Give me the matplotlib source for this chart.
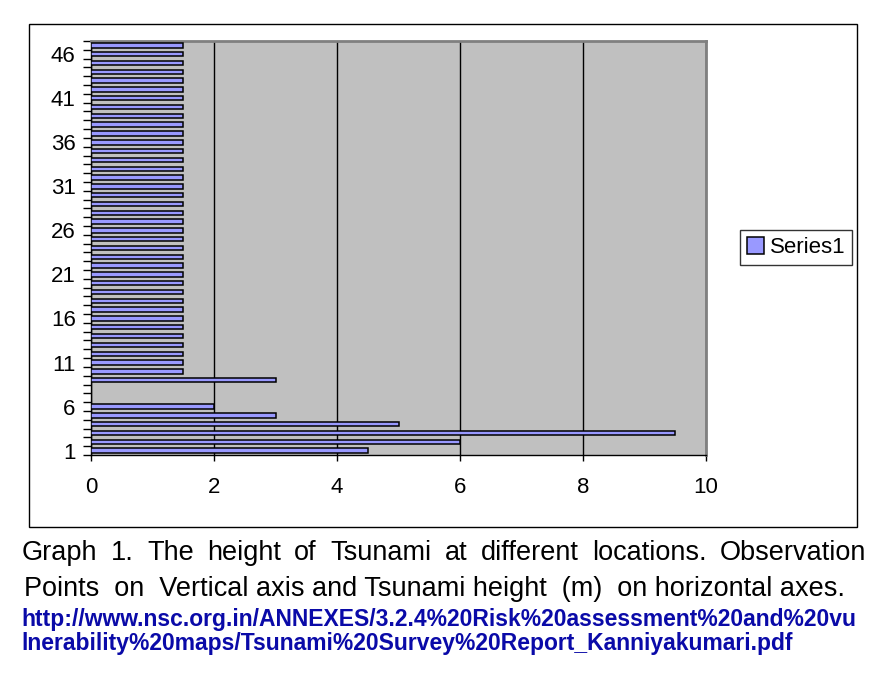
import matplotlib.pyplot as plt
from matplotlib.patches import Rectangle

# observation points 1..47, tsunami height (m)
points = list(range(1, 48))
heights = [4.5, 6, 9.5, 5, 3, 2, 0, 0, 3] + [1.5] * 38
label_points = [1, 6, 11, 16, 21, 26, 31, 36, 41, 46]
x_ticks = [0, 2, 4, 6, 8, 10]

caption1 = 'Graph 1. The height of Tsunami at different locations. Observation'
caption2 = 'Points  on  Vertical axis and Tsunami height  (m)  on horizontal axes.'
url1 = 'http://www.nsc.org.in/ANNEXES/3.2.4%20Risk%20assessment%20and%20vu'
url2 = 'lnerability%20maps/Tsunami%20Survey%20Report_Kanniyakumari.pdf'

plt.rcParams['font.family'] = ['Liberation Sans', 'DejaVu Sans']

W, H = 883, 684
fig = plt.figure(figsize=(W / 100, H / 100), dpi=100)

# outer chart frame
fig.patches.append(Rectangle((29 / W, 1 - 527 / H), 828 / W, 503 / H,
                             transform=fig.transFigure, fill=False,
                             edgecolor='black', linewidth=1.0))

ax = fig.add_axes([91 / W, 1 - 455 / H, 615 / W, 414 / H])
ax.set_facecolor('#C0C0C0')
ax.barh(points, heights, height=0.5, color='#9999FF', edgecolor='black',
        linewidth=1.1, label='Series1', zorder=3)

ax.set_xlim(0, 10)
ax.set_ylim(0.5, 47.5)
ax.set_xticks(x_ticks)
ax.set_xticklabels([str(v) for v in x_ticks], fontsize=16)
ax.tick_params(axis='x', direction='out', length=4, width=1, pad=12)
ax.set_yticks(label_points)
ax.set_yticklabels([str(v) for v in label_points], fontsize=16)
ax.tick_params(axis='y', which='major', length=0, pad=11)
ax.set_yticks([p + 0.5 for p in range(0, 48)], minor=True)
ax.tick_params(axis='y', which='minor', direction='out', length=6, width=1)
ax.grid(axis='x', color='black', linewidth=1.0, zorder=1)
ax.set_axisbelow(True)

for side in ['top', 'right']:
    ax.spines[side].set_color('#808080')
    ax.spines[side].set_linewidth(2)
for side in ['left', 'bottom']:
    ax.spines[side].set_color('black')
    ax.spines[side].set_linewidth(1)

leg = fig.legend(loc='center left', bbox_to_anchor=(740 / W, 1 - 247.5 / H),
                 fontsize=16, frameon=True, fancybox=False, shadow=False,
                 handlelength=0.8, handleheight=0.8, handletextpad=0.25,
                 borderpad=0.3, borderaxespad=0)
leg.get_frame().set_edgecolor('black')
leg.get_frame().set_linewidth(1.0)

# caption, first line justified across the width
renderer = fig.canvas.get_renderer()
words = caption1.split()
x_left, x_right = 22 / W, 866 / W
y1 = 1 - 560 / H
tw = []
for w in words:
    t = fig.text(0, 0, w, fontsize=19.5)
    bb = t.get_window_extent(renderer=renderer)
    tw.append(bb.width / W)
    t.remove()
gap = (x_right - x_left - sum(tw)) / (len(words) - 1)
x = x_left
for w, wd in zip(words, tw):
    fig.text(x, y1, w, fontsize=19.5, va='baseline', ha='left')
    x += wd + gap

fig.text(24 / W, 1 - 596 / H, caption2, fontsize=19.5, va='baseline', ha='left')
fig.text(21 / W, 1 - 626 / H, url1, fontsize=16.5, fontweight='bold',
         color='#0A0AA8', va='baseline', ha='left')
fig.text(21 / W, 1 - 650 / H, url2, fontsize=16.5, fontweight='bold',
         color='#0A0AA8', va='baseline', ha='left')

fig.savefig('out.png', dpi=100)
